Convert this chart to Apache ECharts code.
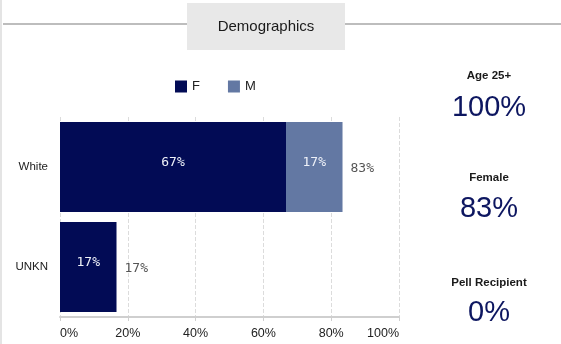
<!DOCTYPE html>
<html><head><meta charset="utf-8">
<script src="https://cdn.jsdelivr.net/npm/echarts@6/dist/echarts.min.js"></script>
<style>html,body{margin:0;padding:0;background:#fff}#c{width:561px;height:344px}</style>
</head><body><div id="c"></div>
<script>
const categories = ['White', 'UNKN'];
const femaleValues = [66.67, 16.67];
const maleValues = [16.67, 0];
const totalValues = [83.33, 16.67];
const xTicks = [0, 20, 40, 60, 80, 100];
const statLabels = ['Age 25+', 'Female', 'Pell Recipient'];
const statValues = ['100%', '83%', '0%'];
const titleText = 'Demographics';

const chart = echarts.init(document.getElementById('c'), null, {renderer: 'canvas'});
const pct = v => Math.round(v) + '%';
const statY = [[76, 108], [178, 209], [283, 313]];
const graphics = [
  {type: 'line', shape: {x1: 1, y1: 0, x2: 1, y2: 344}, style: {stroke: '#e4e4e4', lineWidth: 2}},
  {type: 'line', shape: {x1: 3, y1: 24, x2: 187, y2: 24}, style: {stroke: '#bdbdbd', lineWidth: 2}},
  {type: 'line', shape: {x1: 345, y1: 24, x2: 561, y2: 24}, style: {stroke: '#bdbdbd', lineWidth: 2}},
  {type: 'rect', shape: {x: 187, y: 3, width: 158, height: 47}, style: {fill: '#e8e8e8'}},
  {type: 'text', x: 266, y: 27, style: {text: titleText, font: '15px "Liberation Sans", Arial, sans-serif', fill: '#1a1a1a', align: 'center', verticalAlign: 'middle'}}
];
statLabels.forEach((l, i) => {
  graphics.push({type: 'text', x: 489, y: statY[i][0], style: {text: l, font: 'bold 11.5px "Liberation Sans", Arial, sans-serif', fill: '#1a1a1a', align: 'center', verticalAlign: 'middle'}});
  graphics.push({type: 'text', x: 489, y: statY[i][1], style: {text: statValues[i], font: '29px "Liberation Sans", Arial, sans-serif', fill: '#0d1660', align: 'center', verticalAlign: 'middle'}});
});

const insideLabel = {
  show: true, position: 'inside', offset: [0, -4], color: '#eef1f8',
  fontFamily: '"DejaVu Sans Mono", monospace', fontSize: 13,
  formatter: p => p.value > 0 ? pct(p.value) : ''
};

chart.setOption({
  animation: false,
  textStyle: {fontFamily: '"Liberation Sans", Arial, sans-serif'},
  graphic: graphics,
  legend: {
    data: ['F', 'M'], left: 170, top: 75, itemWidth: 12, itemHeight: 12, itemGap: 28,
    icon: 'rect', textStyle: {fontSize: 13, color: '#222'}
  },
  grid: {left: 60, right: 162, top: 117, bottom: 27, containLabel: false},
  xAxis: {
    type: 'value', min: 0, max: 100, interval: 20,
    axisLine: {show: true, lineStyle: {color: '#cfcfcf', width: 2}},
    axisTick: {show: true, length: 4, lineStyle: {color: '#cfcfcf'}},
    axisLabel: {formatter: v => xTicks.includes(v) ? v + '%' : '', color: '#222', fontSize: 12.5, margin: 10,
      alignMinLabel: 'left', alignMaxLabel: 'right'},
    splitLine: {show: true, lineStyle: {color: '#dcdcdc', type: 'dashed'}}
  },
  yAxis: {
    type: 'category', data: categories, inverse: true,
    axisLine: {show: false}, axisTick: {show: false},
    axisLabel: {color: '#222', fontSize: 11.5, margin: 12}
  },
  series: [
    {name: 'F', type: 'bar', stack: 's', data: femaleValues, barCategoryGap: '10%',
     itemStyle: {color: '#020b55'}, label: insideLabel},
    {name: 'M', type: 'bar', stack: 's', data: maleValues,
     itemStyle: {color: '#6378a3'}, label: insideLabel},
    {name: 'Total', type: 'bar', stack: 's', data: totalValues.map(() => 0),
     itemStyle: {color: 'transparent'},
     label: {show: true, position: 'right', distance: 8, offset: [0, 2], color: '#555',
       fontFamily: '"DejaVu Sans Mono", monospace', fontSize: 13,
       formatter: p => pct(totalValues[p.dataIndex])}}
  ]
});
</script></body></html>
